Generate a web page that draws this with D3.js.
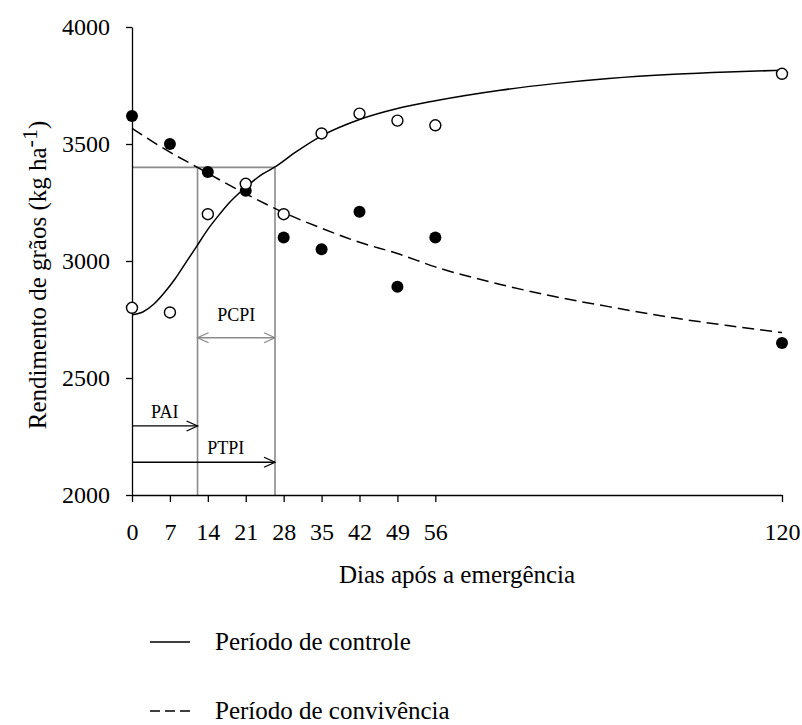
<!DOCTYPE html>
<html lang="pt">
<head>
<meta charset="UTF-8">
<title>Rendimento de grãos</title>
<script src="https://d3js.org/d3.v7.min.js"></script>
<style>
  body { margin: 0; background: #fff; }
  svg text { font-family: "Liberation Serif", "Times New Roman", serif; fill: #000; }
  .axis path, .axis line { stroke: #000; stroke-width: 1.3; }
  .axis text { font-size: 24px; }
  .guide { stroke: #8a8a8a; stroke-width: 1.6; fill: none; }
</style>
</head>
<body>
<script>
// days after emergence (x ticks and sampled days)
const days = [0, 7, 14, 21, 28, 35, 42, 49, 56, 120];
const yTicks = [2000, 2500, 3000, 3500, 4000];

// observed yields (kg/ha)
const controle = [2800, 2780, 3200, 3330, 3200, 3545, 3630, 3600, 3580, 3800];
const convivencia = [3620, 3500, 3380, 3300, 3100, 3050, 3210, 2890, 3100, 2650];

// fitted curves
const curveControleX = [0, 2, 4, 6, 8, 10, 12, 14, 16, 18, 20, 22, 24, 26.4, 30, 35, 42, 49, 56, 68, 78, 88, 100, 110, 120];
const curveControleY = [2770, 2782, 2815, 2865, 2925, 2995, 3065, 3135, 3195, 3250, 3295, 3335, 3370, 3402, 3462, 3535, 3605, 3652, 3685, 3730, 3758, 3780, 3798, 3808, 3815];
const curveConvX = [0, 7, 12.1, 14, 21, 28, 35, 42, 49, 56, 68, 78, 88, 100, 110, 120];
const curveConvY = [3567, 3465, 3400, 3375, 3287, 3207, 3140, 3080, 3032, 2975, 2900, 2848, 2805, 2757, 2724, 2694];

// critical periods
const pai = 12.1, ptpi = 26.4, yieldLevel = 3400;
const arrows = [
  { label: "PCPI", from: pai, to: ptpi, y: 2672, labelX: 19.25, both: true, color: "#8a8a8a" },
  { label: "PAI", from: 0, to: pai, y: 2295, labelX: 6.05, both: false, color: "#000" },
  { label: "PTPI", from: 0, to: ptpi, y: 2140, labelX: 17.3, both: false, color: "#000" }
];

const legendItems = ["Período de controle", "Período de convivência"];

const width = 802, height = 725;
const svg = d3.select("body").append("svg")
  .attr("width", width).attr("height", height);

const x = d3.scaleLinear().domain([0, 120]).range([132, 782]);
const y = d3.scaleLinear().domain([2000, 4000]).range([495, 27]);

// guide lines for critical periods
svg.append("path").attr("class", "guide")
  .attr("d", `M${x(0)},${y(yieldLevel)}H${x(ptpi)}`);
[pai, ptpi].forEach(d => {
  svg.append("line").attr("class", "guide")
    .attr("x1", x(d)).attr("x2", x(d))
    .attr("y1", y(yieldLevel)).attr("y2", y(2000));
});

// arrows
function head(px, py, dir, color) {
  svg.append("path")
    .attr("d", `M${px - dir * 11},${py - 5}L${px},${py}L${px - dir * 11},${py + 5}`)
    .attr("fill", "none").attr("stroke", color).attr("stroke-width", 1.3);
}
arrows.forEach(a => {
  const yy = y(a.y);
  svg.append("line")
    .attr("x1", x(a.from)).attr("x2", x(a.to))
    .attr("y1", yy).attr("y2", yy)
    .attr("stroke", a.color).attr("stroke-width", 1.3);
  head(x(a.to), yy, 1, a.color);
  if (a.both) head(x(a.from), yy, -1, a.color);
  svg.append("text")
    .attr("x", x(a.labelX))
    .attr("y", yy - (a.both ? 17 : 8))
    .attr("text-anchor", "middle")
    .style("font-size", "18px")
    .text(a.label);
});

// axes
svg.append("g").attr("class", "axis")
  .attr("transform", `translate(0,${y(2000)})`)
  .call(d3.axisBottom(x).tickValues(days).tickSize(7).tickSizeOuter(0).tickPadding(21))
  .attr("font-family", null).attr("font-size", null);

svg.append("g").attr("class", "axis")
  .attr("transform", `translate(${x(0)},0)`)
  .call(d3.axisLeft(y).tickValues(yTicks).tickFormat(d3.format("d"))
    .tickSize(6).tickSizeOuter(0).tickPadding(16))
  .attr("font-family", null).attr("font-size", null);

// fitted curves
const line = d3.line().x(d => x(d[0])).y(d => y(d[1])).curve(d3.curveMonotoneX);
svg.append("path")
  .datum(curveControleX.map((d, i) => [d, curveControleY[i]]))
  .attr("d", line).attr("fill", "none").attr("stroke", "#000").attr("stroke-width", 1.5);
svg.append("path")
  .datum(curveConvX.map((d, i) => [d, curveConvY[i]]))
  .attr("d", line).attr("fill", "none").attr("stroke", "#000").attr("stroke-width", 1.5)
  .attr("stroke-dasharray", "12,6");

// points
svg.selectAll(".conv").data(days).enter().append("circle")
  .attr("cx", d => x(d)).attr("cy", (d, i) => y(convivencia[i]))
  .attr("r", 6).attr("fill", "#000");
svg.selectAll(".ctrl").data(days).enter().append("circle")
  .attr("cx", d => x(d)).attr("cy", (d, i) => y(controle[i]))
  .attr("r", 5.5).attr("fill", "#fff").attr("stroke", "#000").attr("stroke-width", 1.4);

// axis titles
svg.append("text")
  .attr("x", (x(0) + x(120)) / 2).attr("y", 583)
  .attr("text-anchor", "middle").style("font-size", "25px")
  .text("Dias após a emergência");

const yt = svg.append("text")
  .attr("transform", "translate(46,275) rotate(-90)")
  .attr("text-anchor", "middle").style("font-size", "25px");
yt.append("tspan").text("Rendimento de grãos (kg ha");
yt.append("tspan").attr("dy", -9).style("font-size", "22px").text("-1");
yt.append("tspan").attr("dy", 9).text(")");

// legend
const leg = svg.append("g");
legendItems.forEach((t, i) => {
  const ly = 642 + i * 69;
  leg.append("line")
    .attr("x1", 150).attr("x2", 190).attr("y1", ly).attr("y2", ly)
    .attr("stroke", "#000").attr("stroke-width", 1.3)
    .attr("stroke-dasharray", i ? "10,5" : null);
  leg.append("text").attr("x", 215).attr("y", ly + 8)
    .style("font-size", "25px").text(t);
});
</script>
</body>
</html>
